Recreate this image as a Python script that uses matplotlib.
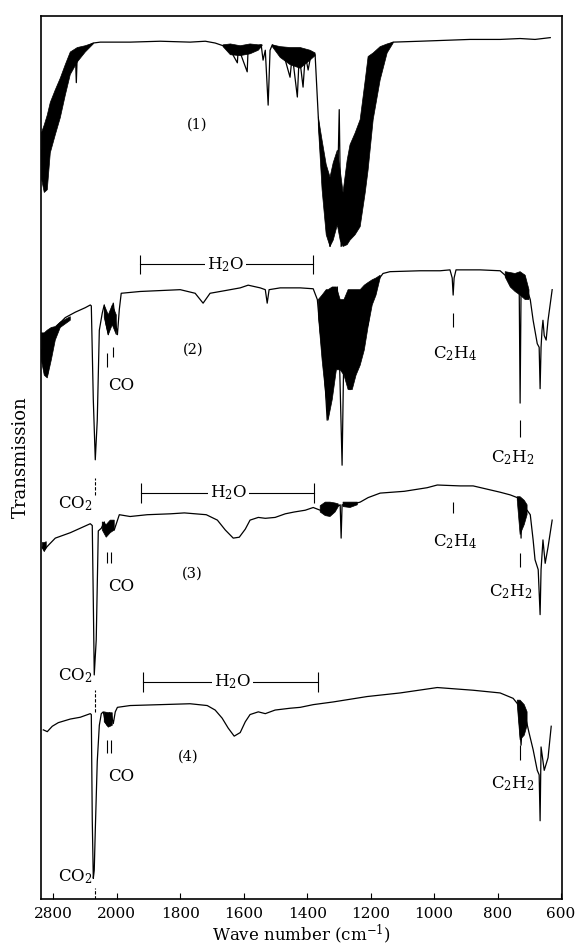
import numpy as np
import matplotlib.pyplot as plt

plt.rcParams['font.family'] = 'DejaVu Serif'
plt.rcParams['mathtext.fontset'] = 'dejavuserif'

nan = np.nan

# wave number (cm-1) / stacked transmission (arb. units)
spec1_wn = [2951, 2914, 2876, 2838, 2775, 2712, 2649, 2586, 2523, 2510, 2497, 2397, 2296, 2208, 1958, 1863, 1769, 1721, 1690, 1665,
            1642, 1620, 1617, 1589, 1586, 1564, 1545, 1539, 1532, 1523, 1517, 1510, 1485, 1469, 1454, 1447, 1431, 1425, 1413, 1406,
            1397, 1387, 1375, 1365, 1353, 1337, 1328, 1315, 1305, 1299, 1293, 1280, 1265, 1246, 1227, 1214, 1208, 1192, 1170, 1148,
            1129, 1044, 887, 792, 729, 682, 634]
spec1_t = [83.3, 79.4, 81.1, 85.6, 87.2, 89.4, 91.1, 93.3, 94.2, 90.8, 94.2, 94.7, 95.2, 95.3, 95.3, 95.4, 95.3, 95.4, 95.2, 94.9,
           94.4, 93.0, 94.7, 92.0, 94.7, 94.8, 95.0, 93.3, 94.4, 88.3, 94.4, 95.0, 94.4, 93.3, 91.4, 93.9, 89.2, 93.9, 90.3, 93.9,
           92.2, 94.1, 93.9, 87.0, 81.1, 75.6, 72.6, 75.6, 77.8, 87.8, 72.6, 74.4, 77.8, 78.9, 82.2, 91.1, 84.4, 90.0, 93.3, 94.9,
           95.3, 95.4, 95.6, 95.6, 95.7, 95.6, 95.8]
# envelopes of the unresolved rotational structure
spec1_band_wn = [2951, 2914, 2876, 2838, 2775, 2712, 2649, 2586, 2497, 2397, 2296, nan,
                 1665, 1642, 1611, 1580, 1554, 1542, nan,
                 1510, 1485, 1454, 1422, 1391, 1375, nan,
                 1365, 1353, 1340, 1328, 1318, 1305, 1296, 1287, 1274, 1265, 1249, 1233, 1217, 1208, 1192, 1170, 1148, 1129]
spec1_band_hi = [85.2, 86.1, 87.2, 88.6, 90.0, 91.3, 92.8, 94.2, 94.7, 94.9, 95.2, nan,
                 95.0, 95.1, 94.9, 95.1, 95.0, 95.0, nan,
                 95.0, 94.8, 94.7, 94.7, 94.4, 94.1, nan,
                 87.0, 84.4, 81.7, 80.3, 81.9, 83.3, 81.1, 78.6, 82.2, 83.9, 85.2, 86.7, 91.1, 93.7, 94.1, 94.8, 95.1, 95.3]
spec1_band_lo = [80.2, 78.6, 78.9, 83.0, 85.0, 86.9, 89.4, 91.7, 93.1, 94.2, 95.1, nan,
                 94.8, 93.9, 93.8, 94.0, 94.4, 94.9, nan,
                 94.8, 93.6, 92.8, 92.4, 93.3, 93.8, nan,
                 86.1, 78.9, 73.9, 72.6, 73.3, 75.0, 73.3, 72.6, 72.8, 73.3, 73.9, 74.8, 78.6, 81.1, 86.7, 91.1, 94.1, 95.2]

spec2_wn = [2951, 2914, 2876, 2813, 2750, 2649, 2523, 2397, 2334, 2321, 2296, 2271, 2246, 2220, 2183, 2158, 2133, 2107, 2082, 2044,
            2019, 1998, 1992, 1986, 1926, 1863, 1800, 1753, 1728, 1706, 1658, 1611, 1586, 1548, 1532, 1526, 1520, 1485, 1422, 1381,
            1368, 1359, 1346, 1337, 1328, 1315, 1305, 1299, 1290, 1284, 1271, 1265, 1255, 1249, 1239, 1227, 1217, 1208, 1195, 1186,
            1176, 1161, 1139, 1044, 981, 950, 943, 940, 937, 931, 855, 792, 776, 760, 745, 732, 729, 726, 716, 707,
            697, 688, 675, 669, 666, 663, 660, 657, 653, 647, 641, 628]
spec2_t = [61.1, 58.9, 58.3, 61.7, 63.8, 64.7, 65.3, 65.8, 66.1, 66.0, 55.6, 48.9, 53.3, 63.3, 65.2, 66.1, 63.9, 62.8, 65.0, 66.3,
           64.4, 62.8, 65.6, 67.4, 67.6, 67.7, 67.8, 67.4, 66.3, 67.4, 67.7, 68.0, 68.3, 68.0, 67.8, 66.3, 67.8, 68.0, 68.0, 67.9,
           66.7, 63.3, 58.9, 53.3, 57.8, 63.3, 68.1, 61.1, 48.3, 62.2, 63.3, 56.7, 66.7, 58.3, 64.4, 60.6, 67.8, 63.9, 68.3, 67.2,
           68.9, 69.6, 69.8, 69.9, 69.9, 70.0, 69.1, 67.2, 69.1, 70.0, 70.0, 69.9, 69.4, 68.7, 68.3, 68.6, 55.2, 67.8, 69.4, 67.8,
           66.7, 64.4, 61.8, 61.4, 56.8, 61.4, 63.3, 64.4, 62.7, 62.2, 64.4, 67.8]
spec2_band_wn = [2951, 2914, 2876, 2825, 2775, 2712, 2586, nan,
                 2158, 2107, 2057, 2006, nan,
                 1365, 1353, 1340, 1334, 1321, 1308, 1296, 1284, 1271, 1258, 1246, 1233, 1220, 1208, 1195, 1183, 1170, nan,
                 776, 760, 745, 729, 713, 701]
spec2_band_hi = [63.0, 63.0, 63.3, 63.6, 63.7, 64.2, 64.8, nan,
                 66.1, 65.0, 66.1, 65.0, nan,
                 66.7, 67.2, 67.8, 67.8, 68.1, 68.1, 66.7, 66.7, 67.8, 67.8, 67.8, 67.8, 68.3, 68.6, 68.9, 69.1, 69.4, nan,
                 69.8, 69.7, 69.6, 69.8, 69.4, 67.8]
spec2_band_lo = [60.0, 58.3, 58.0, 60.0, 62.2, 63.6, 64.4, nan,
                 64.7, 62.8, 63.9, 62.8, nan,
                 65.0, 60.0, 55.6, 53.3, 55.6, 58.9, 58.9, 58.3, 56.7, 56.7, 58.3, 59.4, 61.1, 63.7, 66.1, 67.2, 69.1, nan,
                 69.2, 68.1, 67.6, 67.2, 66.7, 66.7]

spec3_wn = [2939, 2914, 2863, 2775, 2586, 2334, 2309, 2296, 2284, 2259, 2233, 2195, 2158, 2120, 2082, 2032, 1992, 1958, 1904, 1831,
            1787, 1718, 1683, 1658, 1633, 1614, 1595, 1580, 1554, 1532, 1501, 1469, 1441, 1406, 1381, 1359, 1328, 1296, 1293, 1290,
            1265, 1233, 1208, 1170, 1094, 1022, 990, 918, 877, 792, 760, 738, 729, 726, 723, 713, 707, 697, 688, 682,
            672, 666, 663, 657, 650, 641, 628]
spec3_t = [39.2, 38.9, 39.4, 40.2, 40.8, 41.8, 41.6, 33.3, 25.0, 28.9, 41.0, 41.3, 42.0, 40.6, 42.0, 41.1, 42.8, 42.6, 42.8, 42.9,
           43.0, 42.8, 42.2, 41.1, 40.2, 40.3, 41.2, 42.2, 42.5, 42.4, 42.5, 42.9, 43.1, 43.3, 43.6, 43.3, 43.3, 43.9, 40.2, 43.9,
           43.9, 44.2, 44.7, 45.2, 45.4, 45.8, 46.1, 46.0, 46.0, 45.3, 45.0, 44.7, 43.9, 40.2, 43.9, 43.3, 43.3, 42.8, 40.0, 37.8,
           36.7, 31.7, 36.7, 40.0, 37.4, 39.2, 42.2]
spec3_band_wn = [2939, 2914, 2889, nan, 2183, 2133, 2082, 2032, nan,
                 1359, 1343, 1328, 1312, 1302, nan, 1287, 1265, 1242, nan, 738, 729, 716, 707]
spec3_band_hi = [39.7, 39.7, 39.8, nan, 42.0, 41.7, 42.2, 42.2, nan,
                 43.8, 44.2, 44.2, 44.1, 44.0, nan, 44.2, 44.2, 44.2, nan, 44.8, 44.8, 44.4, 43.9]
spec3_band_lo = [39.1, 38.7, 39.1, nan, 41.1, 40.3, 40.8, 41.1, nan,
                 43.1, 42.7, 42.6, 43.1, 43.7, nan, 43.7, 43.6, 43.9, nan, 44.4, 40.6, 41.7, 42.8]

spec4_wn = [2926, 2876, 2813, 2737, 2586, 2460, 2334, 2321, 2309, 2296, 2284, 2271, 2246, 2220, 2195, 2170, 2145, 2120, 2095, 2069,
            2044, 2019, 1998, 1958, 1863, 1769, 1715, 1690, 1668, 1649, 1630, 1611, 1595, 1580, 1554, 1532, 1501, 1454, 1422, 1381,
            1318, 1211, 1107, 990, 877, 792, 751, 735, 726, 720, 710, 701, 688, 675, 669, 666, 663, 653, 641, 631]
spec4_t = [18.9, 18.7, 19.3, 19.7, 20.1, 20.3, 20.7, 20.6, 8.9, 2.4, 3.3, 7.7, 15.4, 19.4, 20.7, 20.9, 19.8, 19.4, 20.8, 20.6,
           19.6, 20.9, 21.4, 21.6, 21.7, 21.8, 21.6, 21.1, 20.2, 19.1, 18.2, 18.6, 19.8, 20.6, 20.9, 20.7, 21.1, 21.3, 21.4, 21.7,
           22.0, 22.6, 23.0, 23.6, 23.3, 23.0, 22.4, 21.7, 17.2, 20.9, 20.0, 18.6, 16.7, 14.4, 13.9, 8.8, 17.0, 14.4, 15.8, 19.3]
spec4_band_wn = [2158, 2107, 2057, nan, 738, 729, 716, 707]
spec4_band_hi = [20.9, 20.8, 20.8, nan, 22.2, 22.2, 21.7, 20.9]
spec4_band_lo = [19.8, 19.2, 19.4, nan, 21.7, 17.8, 18.3, 19.4]

tick_wn = [2800, 2000, 1800, 1600, 1400, 1200, 1000, 800, 600]
tick_labels = ['2800', '2000', '1800', '1600', '1400', '1200', '1000', '800', '600']


# chart paper runs at 1/4 scale above 2000 cm-1
def fwd(w):
    w = np.asarray(w, dtype=float)
    return np.where(w > 2000, 2000 + (w - 2000) / 4.0, w)


def inv(u):
    u = np.asarray(u, dtype=float)
    return np.where(u > 2000, 2000 + (u - 2000) * 4.0, u)


fig = plt.figure(figsize=(5.76, 9.48), dpi=100)
ax = fig.add_axes([0.0712, 0.0517, 0.9045, 0.9314])
ax.set_xscale('function', functions=(fwd, inv))

spectra = [
    (spec1_wn, spec1_t, spec1_band_wn, spec1_band_hi, spec1_band_lo),
    (spec2_wn, spec2_t, spec2_band_wn, spec2_band_hi, spec2_band_lo),
    (spec3_wn, spec3_t, spec3_band_wn, spec3_band_hi, spec3_band_lo),
    (spec4_wn, spec4_t, spec4_band_wn, spec4_band_hi, spec4_band_lo),
]
for wn, t, bwn, bhi, blo in spectra:
    ax.plot(wn, t, color='black', lw=0.9)
    ax.fill_between(bwn, bhi, blo, facecolor='black', edgecolor='black', lw=0.5)

fs = 12

# spectrum numbers
for lab, x, y in [('(1)', 1746, 86.1), ('(2)', 1759, 61.1), ('(3)', 1762, 36.2), ('(4)', 1775, 15.9)]:
    ax.text(x, y, lab, fontsize=10.5, ha='center', va='center')

# water bands
for x0, x1, y, xt in [(1926, 1381, 70.6, 1658), (1923, 1378, 45.2, 1649), (1917, 1365, 24.2, 1636)]:
    ax.plot([x0, x1], [y, y], color='black', lw=0.8)
    ax.vlines([x0, x1], y - 1.1, y + 1.1, color='black', lw=0.8)
    ax.text(xt, y, 'H$_2$O', fontsize=fs, ha='center', va='center',
            bbox=dict(facecolor='white', edgecolor='none', pad=1.5))

# CO
ax.vlines(2120, 59.2, 60.8, color='black', lw=0.8)
ax.vlines(2044, 60.3, 61.4, color='black', lw=0.8)
for y0, y1 in [(37.4, 38.7), (16.3, 17.8)]:
    ax.vlines([2120, 2069], y0, y1, color='black', lw=0.8)
for y in [57.2, 34.8, 13.7]:
    ax.text(2107, y, 'CO', fontsize=fs, ha='left', va='center')

# CO2
for (y0, y1), y in zip([(45.0, 46.9), (20.9, 23.3), (0.1, 1.3)], [44.0, 24.9, 2.6]):
    ax.vlines(2271, y0, y1, color='black', lw=0.8, linestyles=(0, (3, 1.5)))
    ax.text(2309, y, 'CO$_2$', fontsize=fs, ha='right', va='center')

# C2H4
for (y0, y1), y in zip([(63.7, 65.2), (43.0, 44.2)], [60.7, 39.8]):
    ax.vlines(940, y0, y1, color='black', lw=0.8)
    ax.text(934, y, 'C$_2$H$_4$', fontsize=fs, ha='center', va='center')

# C2H2
for (y0, y1), (x, y) in zip([(51.4, 53.3), (37.0, 38.6), (15.6, 17.2)], [(751, 49.1), (757, 34.2), (751, 12.9)]):
    ax.vlines(729, y0, y1, color='black', lw=0.8)
    ax.text(x, y, 'C$_2$H$_2$', fontsize=fs, ha='center', va='center')

ax.set_xlim(2955, 597)
ax.set_ylim(0.11, 98.2)
ax.set_xticks(tick_wn)
ax.set_xticklabels(tick_labels)
ax.set_yticks([])
ax.tick_params(axis='x', direction='in', length=4, labelsize=11, pad=6)
for s in ax.spines.values():
    s.set_linewidth(1.2)

ax.set_xlabel('Wave number (cm$^{-1}$)', fontsize=12, labelpad=1)
ax.set_ylabel('Transmission', fontsize=13, labelpad=8)

fig.savefig('out.png', dpi=100)
